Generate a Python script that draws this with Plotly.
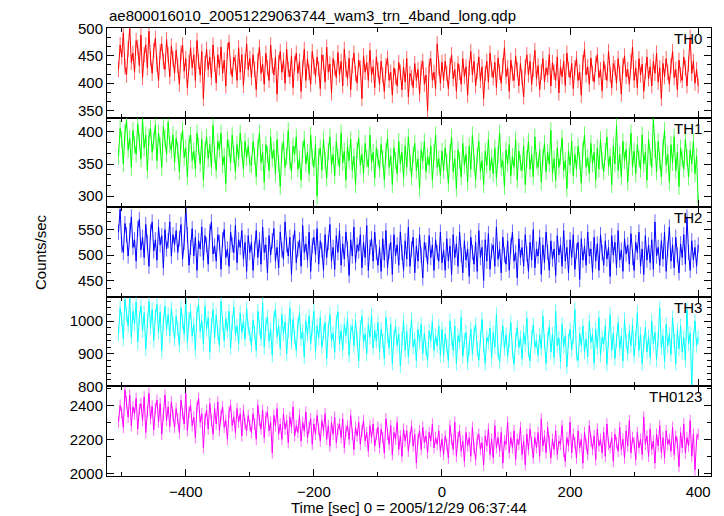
import plotly.graph_objects as go
from plotly.subplots import make_subplots

# time grid: 2.5-s bins starting at -505 s
t_start = -505
t_step = 2.5

th0 = ([425, 470, 448, 492, 430, 415, 462, 500, 438, 455, 420, 478, 466, 432, 488, 410, 452, 470, 428, 495,
        445, 418, 460, 482, 435, 405, 458, 472, 440, 425, 480, 452, 412, 468, 445]
       + [418, 460, 432, 398, 455, 470, 422, 445, 392, 438, 465, 428, 452, 405, 478, 440, 415, 458, 372, 436,
          462, 425, 448, 410, 470, 435, 400, 452, 428, 466, 418, 442, 395, 460, 475, 430, 412, 448, 438, 405,
          465, 420, 452, 396, 440, 472, 425, 445]
       + [410, 452, 425, 388, 440, 466, 418, 435, 398, 455, 428, 405, 470, 432, 415, 448, 380, 438, 458, 420,
          442, 400, 462, 425, 412, 450, 392, 436, 455, 418, 440, 385, 428, 462, 405, 445, 420, 398, 458, 430,
          412, 448, 426, 390, 452, 438, 402, 466, 420, 435, 382, 445, 428, 410, 456, 415, 440, 395, 462, 425,
          408, 446, 388, 432, 455, 418, 400, 442, 428, 372, 450, 420, 438, 405, 460, 415, 430, 392, 448, 425]
       + [398, 440, 415, 385, 432, 446, 405, 420, 378, 428, 412, 395, 438, 420, 388, 430, 402, 445, 375, 418,
          410, 392, 436, 405, 425, 380, 428, 440, 398, 415, 350, 432, 445, 405, 420, 390, 472, 428, 400, 438]
       + [405, 440, 418, 390, 432, 452, 408, 425, 385, 436, 420, 398, 445, 412, 430, 378, 428, 458, 415, 440,
          395, 422, 448, 405, 430, 372, 418, 440, 402, 455, 425, 410, 438, 392, 446, 420, 400, 432, 465, 412,
          428, 385, 442, 418, 405, 450, 425, 395, 436, 410, 375, 430, 452, 415, 440, 398, 425, 460, 408, 432,
          388, 420, 445, 402, 428, 415, 452, 395, 438, 420, 405, 448, 382, 430, 412, 440, 396, 455, 425, 410,
          436, 390, 428, 445, 405, 420, 378, 438, 462, 415, 430, 398, 446, 418, 402, 435, 452, 410, 425, 386,
          440, 420, 405, 458, 415, 392, 436, 428, 400, 445, 418, 380, 432, 450, 412, 425, 398, 440, 466, 405,
          428, 392, 445, 415, 435, 385, 422, 448, 408, 430, 395, 440, 418, 455, 402, 428, 372, 436, 412, 445,
          420, 398, 432, 458, 410, 425, 388, 442, 415, 405, 448, 428, 395, 435, 484, 418, 440, 400, 425, 395])

th1 = ([362, 405, 388, 350, 398, 418, 372, 390, 345, 402, 380, 365, 412, 385, 358, 420, 375, 395, 340, 392,
        405, 368, 385, 410, 355, 398, 378, 345, 408, 390, 365, 415, 380, 372, 395]
       + [352, 390, 372, 338, 385, 402, 360, 375, 330, 382, 395, 355, 370, 342, 398, 378, 350, 388, 325, 372,
          392, 358, 380, 345, 410, 365, 340, 385, 372, 398, 348, 362, 320, 388, 375, 352, 395, 365, 338, 380,
          358, 398, 372, 342, 385, 360, 378, 350]
       + [348, 385, 362, 330, 375, 398, 352, 368, 322, 380, 365, 340, 392, 358, 372, 335, 388, 350, 315, 370,
          385, 345, 362, 402, 355, 338, 378, 365, 392, 342, 358, 325, 372, 388, 350, 368, 335, 395, 360, 345,
          380, 300, 362, 375, 340, 388, 355, 328, 370, 392, 348, 365, 332, 385, 360, 345, 398, 352, 370, 325,
          378, 355, 388, 340, 362, 318, 372, 390, 348, 365, 335, 382, 358, 345, 395, 352, 368, 328, 375, 360]
       + [342, 380, 358, 325, 370, 390, 345, 362, 318, 375, 355, 335, 385, 350, 368, 328, 378, 345, 392, 352,
          330, 365, 382, 340, 358, 312, 372, 355, 385, 338, 362, 348, 378, 325, 368, 395, 345, 358, 332, 370]
       + [340, 375, 352, 320, 368, 392, 338, 358, 312, 372, 355, 330, 382, 348, 365, 322, 378, 342, 395, 350,
          325, 362, 385, 338, 355, 318, 370, 348, 388, 340, 360, 335, 375, 328, 365, 398, 345, 355, 315, 372,
          350, 380, 332, 362, 345, 388, 325, 370, 352, 340, 378, 318, 358, 385, 342, 365, 330, 392, 355, 345,
          372, 322, 360, 382, 338, 368, 350, 402, 335, 358, 325, 375, 345, 362, 390, 340, 355, 312, 370, 348,
          385, 332, 365, 342, 378, 355, 320, 372, 395, 345, 360, 335, 382, 350, 368, 325, 375, 342, 388, 355,
          338, 370, 392, 345, 362, 318, 378, 350, 410, 340, 365, 330, 385, 355, 372, 322, 362, 398, 345, 370,
          335, 380, 358, 342, 395, 350, 368, 325, 388, 360, 345, 420, 372, 338, 385, 355, 330, 375, 402, 348,
          365, 322, 380, 352, 392, 340, 368, 315, 375, 358, 342, 388, 360, 330, 372, 350, 385, 335, 362, 290])

th2 = ([545, 590, 520, 505, 562, 540, 498, 548, 575, 515, 530, 488, 552, 570, 510, 535, 495, 560, 525, 478,
        545, 565, 508, 530, 490, 555, 520, 538, 475, 550, 512, 528, 565, 498, 540]
       + [520, 548, 505, 532, 560, 492, 525, 594, 540, 480, 515, 552, 498, 535, 470, 528, 512, 555, 490, 538,
          520, 482, 545, 565, 502, 518, 488, 540, 525, 472, 530, 550, 495, 512, 478, 545, 520, 505, 558, 485,
          530, 515, 548, 492, 525, 468, 538, 505]
       + [525, 470, 512, 548, 495, 530, 482, 555, 505, 520, 465, 538, 500, 528, 552, 488, 515, 475, 545, 510,
          492, 565, 520, 498, 535, 462, 525, 548, 485, 512, 530, 478, 558, 505, 522, 490, 545, 468, 518, 535,
          500, 552, 482, 528, 510, 470, 540, 495, 525, 560, 488, 515, 472, 538, 505, 548, 480, 522, 492, 545,
          512, 460, 530, 498, 555, 485, 520, 508, 540, 475, 525, 495, 558, 470, 515, 532, 488, 545, 505, 480]
       + [515, 468, 532, 490, 548, 475, 508, 525, 462, 540, 498, 520, 480, 545, 505, 470, 528, 492, 555, 478,
          512, 535, 465, 518, 488, 540, 500, 455, 525, 510, 482, 538, 495, 520, 470, 530, 505, 488, 545, 485]
       + [510, 470, 532, 488, 518, 462, 540, 495, 522, 478, 545, 500, 465, 528, 490, 512, 458, 535, 505, 482,
          525, 468, 548, 495, 515, 450, 530, 488, 542, 472, 508, 520, 478, 555, 492, 512, 465, 535, 500, 482,
          528, 470, 518, 545, 488, 505, 455, 532, 495, 515, 478, 540, 502, 468, 525, 490, 550, 475, 512, 498,
          535, 462, 520, 485, 545, 505, 470, 528, 492, 512, 460, 538, 500, 520, 478, 548, 488, 515, 465, 530,
          495, 540, 472, 508, 525, 452, 532, 490, 518, 480, 545, 498, 512, 466, 535, 488, 522, 470, 540, 505,
          480, 528, 492, 515, 458, 538, 500, 525, 475, 548, 490, 510, 468, 532, 502, 520, 482, 542, 495, 470,
          525, 505, 545, 478, 512, 462, 538, 490, 520, 485, 530, 472, 565, 498, 515, 480, 528, 492, 545, 468,
          512, 555, 488, 520, 475, 535, 500, 465, 522, 495, 540, 482, 575, 505, 470, 528, 490, 515, 478, 520])

th3 = ([960, 1040, 1005, 945, 1065, 1020, 985, 1070, 950, 1030, 990, 1058, 935, 1010, 1045, 970, 1025, 915, 1000, 1060,
        980, 1035, 940, 1015, 1050, 965, 1028, 910, 995, 1045, 975, 1020, 955, 1038, 990]
       + [945, 1015, 978, 925, 1040, 998, 960, 1068, 935, 1005, 1030, 955, 990, 912, 1025, 1050, 968, 1000, 930, 1045,
          975, 1010, 905, 985, 1035, 950, 1018, 965, 925, 1060, 990, 940, 1008, 970, 1030, 918, 995, 1042, 958, 985,
          930, 1025, 965, 1000, 945, 1038, 978, 960]
       + [925, 1002, 965, 910, 1030, 980, 945, 1055, 920, 990, 1012, 938, 975, 895, 1008, 1035, 952, 985, 915, 1020,
          960, 998, 900, 970, 1040, 935, 1005, 950, 910, 988, 1025, 945, 968, 890, 1000, 958, 1015, 930, 978, 1030,
          905, 985, 948, 1010, 920, 965, 995, 885, 975, 1020, 940, 962, 905, 998, 1028, 930, 970, 912, 990, 955,
          1008, 895, 968, 985, 925, 1002, 945, 878, 980, 1015, 935, 960, 900, 990, 950, 1018, 918, 972, 938, 995]
       + [905, 975, 940, 885, 1010, 955, 918, 990, 870, 950, 985, 925, 960, 862, 945, 1000, 910, 968, 890, 955,
          1005, 920, 945, 878, 975, 935, 990, 900, 962, 915, 880, 970, 940, 998, 910, 955, 925, 985, 895, 975]
       + [895, 960, 925, 878, 1000, 945, 910, 985, 870, 955, 935, 1012, 892, 940, 965, 872, 918, 975, 900, 962,
          990, 915, 880, 948, 1005, 925, 870, 950, 935, 978, 888, 965, 920, 1020, 905, 875, 945, 985, 915, 958,
          892, 940, 995, 908, 868, 942, 980, 918, 950, 885, 965, 928, 1008, 910, 878, 950, 988, 920, 940, 895,
          958, 915, 1015, 935, 870, 945, 982, 905, 960, 888, 1030, 925, 948, 875, 990, 922, 955, 860, 940, 975,
          912, 952, 1035, 900, 880, 962, 925, 985, 905, 945, 890, 1000, 935, 958, 872, 975, 918, 1010, 895, 950,
          930, 985, 868, 945, 1020, 910, 962, 885, 940, 995, 915, 955, 878, 1005, 938, 900, 970, 925, 988, 892,
          948, 1025, 910, 960, 870, 935, 980, 905, 952, 888, 1000, 930, 965, 882, 945, 1040, 918, 955, 875, 990,
          925, 960, 898, 1010, 940, 870, 972, 915, 985, 905, 950, 880, 1035, 930, 962, 800, 945, 1000, 925, 950])

th0123 = ([2300, 2400, 2355, 2270, 2490, 2420, 2330, 2460, 2280, 2390, 2350, 2440, 2260, 2375, 2410, 2310, 2450, 2240, 2365, 2470,
           2320, 2395, 2255, 2380, 2430, 2300, 2410, 2230, 2345, 2460, 2310, 2390, 2275, 2420, 2340]
          + [2270, 2380, 2320, 2240, 2430, 2350, 2290, 2470, 2250, 2360, 2400, 2280, 2330, 2210, 2390, 2440, 2300, 2350, 2150, 2320,
             2370, 2260, 2410, 2310, 2230, 2380, 2290, 2420, 2250, 2340, 2390, 2270, 2310, 2200, 2360, 2400, 2280, 2330, 2240, 2380,
             2300, 2350, 2220, 2370, 2290, 2250, 2340, 2280]
          + [2240, 2350, 2290, 2200, 2400, 2310, 2260, 2370, 2210, 2330, 2360, 2250, 2300, 2120, 2340, 2280, 2380, 2230, 2290, 2200,
             2350, 2260, 2310, 2180, 2330, 2270, 2390, 2220, 2280, 2240, 2340, 2190, 2300, 2250, 2360, 2210, 2270, 2320, 2170, 2290,
             2230, 2340, 2260, 2190, 2310, 2250, 2350, 2200, 2280, 2160, 2300, 2230, 2330, 2180, 2260, 2290, 2210, 2320, 2150, 2250,
             2280, 2200, 2340, 2230, 2140, 2270, 2220, 2300, 2170, 2250, 2310, 2190, 2240, 2130, 2280, 2210, 2290, 2160, 2230, 2270]
          + [2150, 2260, 2210, 2120, 2320, 2230, 2170, 2280, 2110, 2240, 2200, 2300, 2140, 2220, 2100, 2260, 2190, 2250, 2130, 2210,
             2280, 2160, 2230, 2060, 2200, 2250, 2140, 2270, 2180, 2220, 2120, 2240, 2190, 2290, 2150, 2210, 2170, 2250, 2130, 2200]
          + [2110, 2220, 2170, 2090, 2280, 2200, 2140, 2300, 2100, 2210, 2250, 2130, 2190, 2070, 2240, 2160, 2210, 2100, 2270, 2150,
             2080, 2200, 2230, 2140, 2180, 2050, 2220, 2160, 2260, 2110, 2200, 2090, 2280, 2150, 2210, 2130, 2240, 2060, 2190, 2170,
             2300, 2120, 2210, 2150, 2250, 2080, 2200, 2170, 2270, 2110, 2190, 2050, 2230, 2140, 2260, 2180, 2090, 2210, 2150, 2240,
             2100, 2320, 2160, 2220, 2120, 2270, 2190, 2090, 2200, 2140, 2250, 2110, 2190, 2170, 2280, 2130, 2070, 2210, 2160, 2300,
             2120, 2230, 2180, 2090, 2250, 2150, 2200, 2060, 2240, 2170, 2110, 2280, 2190, 2140, 2220, 2080, 2260, 2160, 2200, 2120,
             2240, 2100, 2290, 2170, 2150, 2210, 2070, 2230, 2180, 2130, 2270, 2140, 2200, 2090, 2250, 2160, 2310, 2120, 2210, 2180,
             2080, 2240, 2150, 2200, 2110, 2330, 2170, 2220, 2100, 2260, 2140, 2190, 2060, 2230, 2160, 2280, 2120, 2210, 2090, 2250,
             2170, 2200, 2130, 2270, 2110, 2220, 2180, 2040, 2240, 2150, 2290, 2120, 2210, 2160, 2310, 2100, 2230, 2020, 2200, 2230])

# typical 1-sigma error of a bin, per panel (counts/sec)
errors = [14, 13, 15, 22, 34]

names = ["TH0", "TH1", "TH2", "TH3", "TH0123"]
series = [th0, th1, th2, th3, th0123]
colors = ["#ff0000", "#00ff00", "#0000ff", "#00ffff", "#ff00ff"]
y_ranges = [[337, 501], [283, 422], [418, 594], [800, 1074], [1984, 2511]]
y_dticks = [50, 50, 50, 100, 200]
y_minor = [50 / 3, 50 / 3, 50 / 3, 20, 100]
x_range = [-523, 420]

FONT = "Liberation Sans, Arial, Helvetica, sans-serif"
OFF = 8  # page body margin of the html page

fig = make_subplots(rows=5, cols=1, shared_xaxes=True, vertical_spacing=0)

for i, (name, vals, col) in enumerate(zip(names, series, colors)):
    t = [t_start + t_step * k for k in range(len(vals))]
    fig.add_trace(go.Scatter(x=t, y=vals, mode="lines", line=dict(color=col, width=1),
                             error_y=dict(type="constant", value=errors[i], color=col,
                                          thickness=0.6, width=0),
                             name=name, showlegend=False), row=i + 1, col=1)
    fig.update_yaxes(range=y_ranges[i], dtick=y_dticks[i], tick0=0,
                     ticks="inside", ticklen=7, tickwidth=1, tickcolor="black",
                     minor=dict(dtick=y_minor[i], tick0=0, ticks="inside", ticklen=4, tickcolor="black"),
                     showline=True, linecolor="black", linewidth=1, mirror="ticks",
                     showgrid=False, zeroline=False,
                     tickfont=dict(family=FONT, size=15, color="black"),
                     row=i + 1, col=1)
    fig.update_xaxes(range=x_range, dtick=200, tick0=0,
                     ticks="inside", ticklen=7, tickwidth=1, tickcolor="black",
                     minor=dict(dtick=100, tick0=0, ticks="inside", ticklen=4, tickcolor="black"),
                     showline=True, linecolor="black", linewidth=1, mirror="ticks",
                     showgrid=False, zeroline=False,
                     tickfont=dict(family=FONT, size=15, color="black"),
                     row=i + 1, col=1)
    fig.add_annotation(text=name, xref=f"x{'' if i == 0 else i + 1} domain",
                       yref=f"y{'' if i == 0 else i + 1} domain",
                       x=1, y=1, xanchor="right", yanchor="top", xshift=-7, yshift=0,
                       showarrow=False, font=dict(family=FONT, size=15, color="black"))

fig.update_xaxes(ticklabelstandoff=2, row=5, col=1)

fig.add_annotation(text="ae800016010_20051229063744_wam3_trn_4band_long.qdp",
                   xref="paper", yref="paper", x=0, y=1, xanchor="left", yanchor="bottom",
                   xshift=0, yshift=2, showarrow=False,
                   font=dict(family=FONT, size=15, color="black"))
fig.add_annotation(text="Counts/sec", xref="paper", yref="paper", x=0, y=0.5,
                   xanchor="center", yanchor="middle", xshift=-67, textangle=-90,
                   showarrow=False, font=dict(family=FONT, size=15, color="black"))
fig.add_annotation(text="Time [sec] 0 = 2005/12/29 06:37:44", xref="paper", yref="paper",
                   x=0.5, y=0, xanchor="center", yanchor="top", yshift=-21,
                   showarrow=False, font=dict(family=FONT, size=15, color="black"))

fig.update_layout(width=724 - OFF, height=516 - OFF,
                  margin=dict(l=107 - OFF, r=13, t=28 - OFF, b=40),
                  paper_bgcolor="white", plot_bgcolor="white",
                  font=dict(family=FONT, size=15, color="black"))

fig.write_html("out.html")
